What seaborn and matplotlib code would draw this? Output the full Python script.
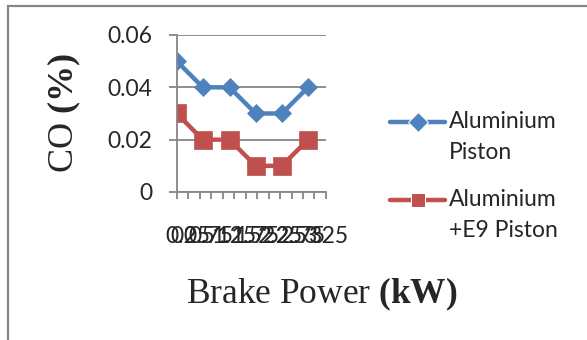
import numpy as np
import pandas as pd
import matplotlib
matplotlib.use("Agg")
import matplotlib.pyplot as plt
from matplotlib.patches import Rectangle
from matplotlib.legend_handler import HandlerLine2D
import seaborn as sns

# Brake power (kW) and CO emission (%) for the two piston types
brake_power = [0, 0.57, 1.15, 1.72, 2.29, 2.86]
co_aluminium = [0.05, 0.04, 0.04, 0.03, 0.03, 0.04]
co_aluminium_e9 = [0.03, 0.02, 0.02, 0.01, 0.01, 0.02]
series_names = ["Aluminium\nPiston", "Aluminium\n+E9 Piston"]

x_ticks = [0, 0.25, 0.5, 0.75, 1, 1.25, 1.5, 1.75, 2, 2.25, 2.5, 2.75, 3, 3.25]
x_tick_labels = ["0", "0.25", "0.5", "0.75", "1", "1.25", "1.5", "1.75",
                 "2", "2.25", "2.5", "2.75", "3", "3.25"]
y_ticks = [0, 0.02, 0.04, 0.06]
y_tick_labels = ["0", "0.02", "0.04", "0.06"]

df = pd.DataFrame({
    "Brake Power": brake_power * 2,
    "CO": co_aluminium + co_aluminium_e9,
    "Series": [series_names[0]] * len(brake_power) + [series_names[1]] * len(brake_power),
})

sns.set_style("white")
plt.rcParams["font.family"] = ["Lato", "DejaVu Sans"]
plt.rcParams["mathtext.fontset"] = "custom"
plt.rcParams["mathtext.rm"] = "Liberation Serif"
plt.rcParams["mathtext.bf"] = "Liberation Serif:bold"

GREY = "#868686"
BLUE = "#4F81BD"
RED = "#C0504D"
FS = 16.5


class FirstLineHandler(HandlerLine2D):
    """Legend handle that sits beside the first line of a two-line label."""

    def __init__(self, shift, **kw):
        super().__init__(**kw)
        self.shift = shift

    def create_artists(self, legend, orig_handle, xdescent, ydescent,
                       width, height, fontsize, trans):
        artists = super().create_artists(legend, orig_handle, xdescent, ydescent,
                                         width, height, fontsize, trans)
        for a in artists:
            a.set_ydata(np.asarray(a.get_ydata(), dtype=float) + self.shift)
        return artists


fig = plt.figure(figsize=(5.87, 3.40), dpi=100)
ax = fig.add_axes([0.301, 0.4353, 0.2543, 0.4618])

sns.lineplot(
    data=df, x="Brake Power", y="CO", hue="Series", style="Series",
    palette=[BLUE, RED], markers=["D", "s"], dashes=False,
    markersize=10, linewidth=3.2, ax=ax, legend=True,
)
for line, ms in zip(ax.lines, [9.6, 13.5]):
    line.set_markeredgecolor(line.get_color())
    line.set_markeredgewidth(0.5)
    line.set_markersize(ms)

ax.set_xlim(0, 3.25)
ax.set_ylim(0, 0.06)
ax.set_xticks(x_ticks)
ax.set_xticklabels(x_tick_labels)
ax.set_yticks(y_ticks)
ax.set_yticklabels(y_tick_labels)

ax.grid(axis="y", color=GREY, linewidth=1.3)
ax.grid(axis="x", visible=False)
ax.set_axisbelow(True)
for side in ["top", "right"]:
    ax.spines[side].set_visible(False)
for side in ["left", "bottom"]:
    ax.spines[side].set_color(GREY)
    ax.spines[side].set_linewidth(1.3)

ax.tick_params(axis="y", direction="out", length=6, width=1.3, color=GREY,
               pad=11.5, labelsize=FS, left=True)
ax.tick_params(axis="x", direction="out", length=5, width=1.3, color=GREY,
               pad=19.5, labelsize=FS, bottom=True)

ax.set_xlabel("Brake Power $\\mathbf{(kW)}$", fontsize=25.5,
              fontfamily="Liberation Serif")
ax.xaxis.set_label_coords(0.973, -0.535)
ax.set_ylabel("CO $\\mathbf{(\\%)}$", fontsize=26,
              fontfamily="Liberation Serif")
ax.yaxis.set_label_coords(-0.63, 0.5)

handles, labels = ax.get_legend_handles_labels()
leg = ax.legend(handles, labels, loc="upper left", bbox_to_anchor=(0.665, 0.673),
                bbox_transform=fig.transFigure, frameon=False, fontsize=FS,
                handlelength=2.4, handletextpad=0.15, labelspacing=1.14,
                borderaxespad=0, borderpad=0,
                handler_map={h: FirstLineHandler(11.4) for h in handles})
for t in leg.get_texts():
    t.set_linespacing(1.58)

# Chart-area border
fig.patches.append(Rectangle((8 / 587, -0.1), 1.2, 1 - 5.5 / 340 + 0.1,
                             transform=fig.transFigure, fill=False,
                             edgecolor=GREY, linewidth=1.6))

fig.savefig("out.png", dpi=100)
